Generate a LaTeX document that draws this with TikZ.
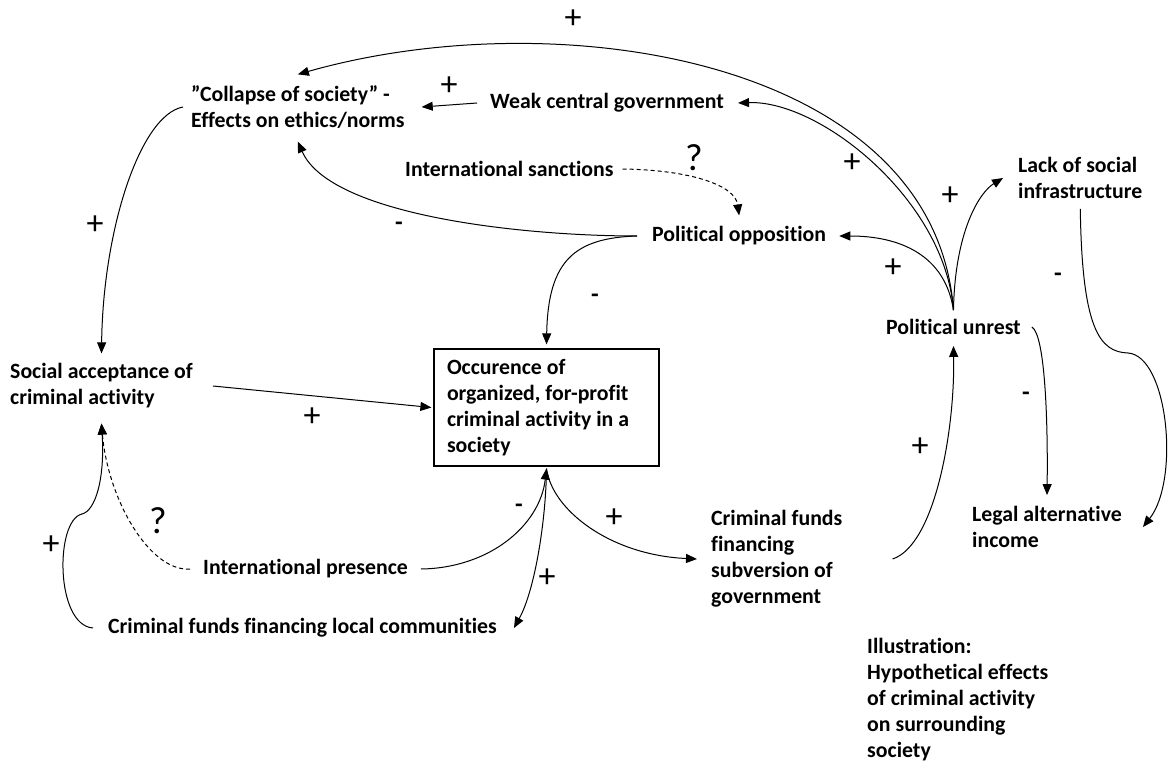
\documentclass[tikz,border=0pt]{standalone}
\usepackage{fontspec}
\setmainfont{Carlito}[Ligatures=NoCommon]
\usetikzlibrary{arrows.meta}
\begin{document}
\begin{tikzpicture}[x=1pt,y=-1pt,
  lbl/.style={font=\bfseries\fontsize{21.8}{26}\selectfont, align=left, inner sep=0pt, anchor=west},
  sgn/.style={font=\fontsize{34}{36}\selectfont, inner sep=0pt},
  neg/.style={font=\bfseries\fontsize{25}{28}\selectfont, inner sep=0pt},
  qmark/.style={font=\fontsize{38}{40}\selectfont, inner sep=0pt},
  link/.style={line width=1pt, -{Triangle[length=11pt,width=9pt]}},
  dlink/.style={link, dash pattern=on 4pt off 3pt},
]
\useasboundingbox (0,0) rectangle (1169,762);

% variables
\node[lbl] (collapse) at (191,107) {”Collapse of society” -\\Effects on ethics/norms};
\node[lbl] (weak) at (490,103) {Weak central government};
\node[lbl] (sanctions) at (405,169) {International sanctions};
\node[lbl] (opposition) at (652,236) {Political opposition};
\node[lbl] (lack) at (1018,178) {Lack of social\\infrastructure};
\node[lbl] (unrest) at (886,327) {Political unrest};
\node[lbl] (acceptance) at (10,386) {Social acceptance of\\criminal activity};
\node[lbl, anchor=center, draw, line width=1.2pt, minimum width=225pt, minimum height=117pt,
      text width=199pt, inner xsep=13pt, align=flush left] (box) at (546.5,407.5)
      {Occurence of\\organized, for-profit\\criminal activity in a\\society};
\node[lbl] (presence) at (203,569) {International presence};
\node[lbl] (local) at (108,628) {Criminal funds financing local communities};
\node[lbl] (subversion) at (711,559) {Criminal funds\\financing\\subversion of\\government};
\node[lbl] (legal) at (972,527) {Legal alternative\\income};
\node[lbl] (illus) at (867,700) {Illustration:\\Hypothetical effects\\of criminal activity\\on surrounding\\society};

% bend points of the two hooked links
\coordinate (lbump) at (82,514);
\coordinate (rbump) at (1128,353);

% links out of political unrest
\draw[link] ([yshift=9pt]unrest.north) .. controls (935,60) and (560,0) .. ([yshift=11pt]collapse.north);
\draw[link] ([yshift=9pt]unrest.north) .. controls (945,200) and (820,100) .. ([xshift=14pt]weak.east);
\draw[link] ([yshift=9pt]unrest.north) .. controls (945,255) and (900,236) .. ([xshift=13pt]opposition.east);
\draw[link] ([yshift=9pt]unrest.north) .. controls (955,230) and (980,192) .. ([xshift=-15pt]lack.west);
\draw[link] ([xshift=11pt]unrest.east) .. controls (1045,335) and (1048,420) .. ([yshift=11pt]legal.north);

% upper part
\draw[link] ([xshift=-13pt]weak.west) -- ([xshift=17pt]collapse.east);
\draw[link] ([xshift=-15pt]opposition.west) .. controls (520,236) and (330,215) .. ([yshift=-13pt]collapse.south);
\draw[link] ([xshift=-15pt]opposition.west) .. controls (575,238) and (548,260) .. ([yshift=4pt]box.north);
\draw[dlink] ([xshift=9pt]sanctions.east) .. controls (690,170) and (735,185) .. ([yshift=11pt]opposition.north);
\draw[link] ([xshift=-8pt]collapse.west) .. controls (140,115) and (103,230) .. ([yshift=10pt]acceptance.north);
\draw[link] ([xshift=20pt]acceptance.east) -- ([xshift=-2pt]box.west);
\draw[link] ([yshift=-10pt]lack.south) .. controls (1082,330) and (1100,352) .. (rbump)
            .. controls (1168,356) and (1180,480) .. ([xshift=21pt]legal.east);

% lower part
\draw[dlink] ([xshift=-13pt]presence.west) .. controls (150,572) and (108,500) .. ([yshift=-15pt]acceptance.south);
\draw[link] ([xshift=-15pt]local.west) .. controls (55,625) and (55,520) .. (lbump)
            .. controls (95,511) and (105,480) .. ([yshift=-15pt]acceptance.south);
\draw[link] ([xshift=13pt]presence.east) .. controls (490,568) and (540,525) .. ([yshift=-2pt]box.south);
\draw[link] ([yshift=-2pt]box.south) .. controls (546,520) and (535,590) .. ([xshift=17pt]local.east);
\draw[link] ([yshift=-2pt]box.south) .. controls (552,510) and (610,555) .. ([xshift=-14pt]subversion.west);
\draw[link] ([xshift=50pt]subversion.east) .. controls (935,545) and (955,430) .. ([yshift=-11pt]unrest.south);

% polarity signs
\node[sgn] (s1) at (573,19) {+};
\node[sgn] (s2) at (449,86) {+};
\node[sgn] (s3) at (852,163) {+};
\node[sgn] (s4) at (950,196) {+};
\node[neg] (s5) at (399,226) {-};
\node[sgn] (s6) at (893,268) {+};
\node[neg] (s7) at (595,298) {-};
\node[neg] (s8) at (1058,277) {-};
\node[sgn] (s9) at (95,225) {+};
\node[sgn] (s10) at (312,417) {+};
\node[neg] (s11) at (1026,396) {-};
\node[sgn] (s12) at (920,447) {+};
\node[neg] (s13) at (519,508) {-};
\node[sgn] (s14) at (614,518) {+};
\node[sgn] (s15) at (51,545) {+};
\node[sgn] (s16) at (547,578) {+};
\node[qmark] (q1) at (694,158) {?};
\node[qmark] (q2) at (158,521) {?};
\end{tikzpicture}
\end{document}
